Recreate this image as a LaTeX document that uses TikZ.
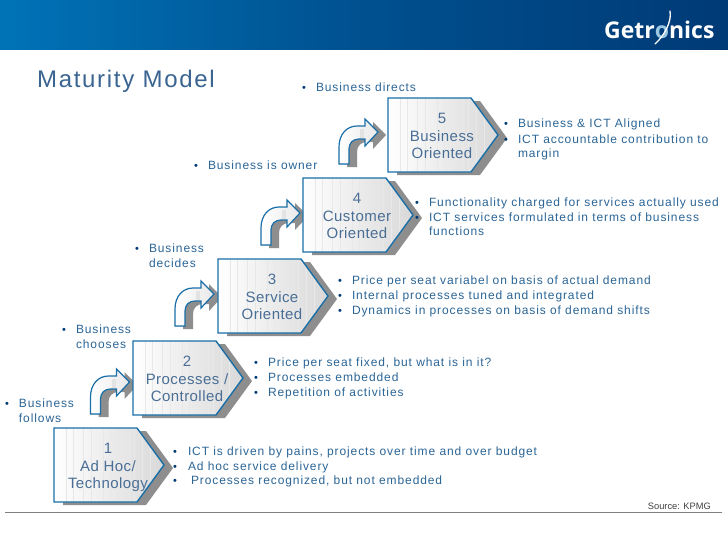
\documentclass[tikz,border=0pt]{standalone}
\usepackage{fontspec}
\setmainfont{Liberation Sans}
\newfontfamily\bodyf[LetterSpace=7.5]{Liberation Sans}
\newfontfamily\stagef[LetterSpace=3]{Liberation Sans}
\newfontfamily\titlef[LetterSpace=7]{Liberation Sans}
\newfontfamily\logof{Open Sans}
\usetikzlibrary{calc}
\definecolor{hdrL}{HTML}{0073B7}
\definecolor{hdrM}{HTML}{00508F}
\definecolor{hdrR}{HTML}{003A76}
\definecolor{edgeblue}{HTML}{1A6FA8}
\definecolor{txtblue}{HTML}{2B6596}
\definecolor{stagetxt}{HTML}{4A6E95}
\definecolor{titleblue}{HTML}{3A6491}
\definecolor{shadowg}{HTML}{8E8E8E}
\tikzset{
  txt/.style={anchor=base west,inner sep=0pt,outer sep=0pt,text=txtblue,font=\bodyf\fontsize{12}{14}\selectfont},
  bul/.style={anchor=base,inner sep=0pt,outer sep=0pt,text=hdrR,font=\fontsize{11}{14}\selectfont},
  stagetext/.style={anchor=base,inner sep=0pt,outer sep=0pt,text=stagetxt,font=\stagef\fontsize{15}{17}\selectfont},
  stripe/.style={line width=0.6pt,draw=gray!18},
}
\newcommand{\pentpath}{(0,0) -- (83,0) -- (110,37) -- (83,74) -- (0,74) -- cycle}
\newcommand{\arrowpath}{(0,0) -- (0,-17) .. controls (0,-30) and (8,-38) .. (18,-38) -- (26,-38) -- (26,-45) -- (39,-32) -- (26,-18) -- (26,-25) -- (20,-25) .. controls (14,-25) and (10,-21) .. (10,-15) -- (10,0) -- cycle}
% #1 name, #2 x, #3 y, #4-#6 lines
\newcommand{\stagebox}[6]{%
  \fill[shadowg,shift={(#2+9,#3+3)}] \pentpath;
  \begin{scope}[shift={(#2,#3)}]
    \begin{scope}
      \clip \pentpath;
      \fill[left color=white,right color=gray!30] (0,0) rectangle (110,74);
      \foreach \sx in {12,19,29,37,49,56,63,75,80,88,96}{\draw[stripe] (\sx,0) -- (\sx,74);}
    \end{scope}
    \draw[edgeblue,line width=1.4pt,line join=miter] \pentpath;
    \node[stagetext] (#1a) at (54,25) {#4};
    \node[stagetext] (#1b) at (54,43) {#5};
    \node[stagetext] (#1c) at (54,60) {#6};
  \end{scope}}
\newcommand{\bentarrow}[2]{%
  \fill[shadowg,shift={(#1+8,#2+3)}] \arrowpath;
  \begin{scope}[shift={(#1,#2)}]
    \fill[left color=white,right color=gray!18] \arrowpath;
    \fill[gray!22] (21,-35) rectangle (25,-26);
    \draw[edgeblue,line width=1.2pt,line join=miter] \arrowpath;
  \end{scope}}
\begin{document}
\begin{tikzpicture}[x=1pt,y=-1pt]
\useasboundingbox (0,0) rectangle (728,546);
\fill[white] (0,0) rectangle (728,546);
% header
\shade[left color=hdrL,right color=hdrR,middle color=hdrM] (0,0) rectangle (728,49);
\node[anchor=base west,inner sep=0pt,text=white,font=\logof\bfseries\fontsize{23}{26}\selectfont] (logo) at (604,38) {Getr\textcolor{hdrL!40}{o}nics};
\draw[white,line width=1.3pt,line cap=round] (655,44) .. controls (664,36) and (672,22) .. (670,11);
% title
\node[anchor=base west,inner sep=0pt,text=titleblue,font=\titlef\fontsize{24}{26}\selectfont] (title) at (37,87) {Maturity Model};
% stages
\bentarrow{339}{164}
\bentarrow{261}{245}
\bentarrow{175}{326}
\bentarrow{90.5}{414}
\stagebox{sv}{388}{98}{5}{Business}{Oriented}
\stagebox{si}{303}{178}{4}{Customer}{Oriented}
\stagebox{st}{218}{259}{3}{Service}{Oriented}
\stagebox{sb}{133}{341}{2}{Processes /}{Controlled}
\stagebox{sa}{54}{428}{1}{Ad Hoc/}{Technology}
% side captions
\node[bul] (b51) at (304,91) {•}; \node[txt] (t51) at (316,91) {Business directs};
\node[bul] (b41) at (196,169) {•}; \node[txt] (t41) at (208,169) {Business is owner};
\node[bul] (b31) at (137,252) {•}; \node[txt] (t31) at (149,252) {Business};
\node[txt] (t32) at (149,267) {decides};
\node[bul] (b21) at (64,333) {•}; \node[txt] (t21) at (76,333) {Business};
\node[txt] (t22) at (76,348) {chooses};
\node[bul] (b11) at (7,407) {•}; \node[txt] (t11) at (19,407) {Business};
\node[txt] (t12) at (19,422) {follows};
% lists
\node[bul] (l5a) at (506,127) {•}; \node[txt] (x5a) at (518,127) {Business \& ICT Aligned};
\node[bul] (l5b) at (506,143) {•}; \node[txt] (x5b) at (518,143) {ICT accountable contribution to};
\node[txt] (x5c) at (518,157) {margin};
\node[bul] (l4a) at (417,206) {•}; \node[txt] (x4a) at (429,206) {Functionality charged for services actually used};
\node[bul] (l4b) at (417,221) {•}; \node[txt] (x4b) at (429,221) {ICT services formulated in terms of business};
\node[txt] (x4c) at (429,235) {functions};
\node[bul] (l3a) at (340,284) {•}; \node[txt] (x3a) at (352,284) {Price per seat variabel on basis of actual demand};
\node[bul] (l3b) at (340,299) {•}; \node[txt] (x3b) at (352,299) {Internal processes tuned and integrated};
\node[bul] (l3c) at (340,314) {•}; \node[txt] (x3c) at (352,314) {Dynamics in processes on basis of demand shifts};
\node[bul] (l2a) at (256,366) {•}; \node[txt] (x2a) at (268,366) {Price per seat fixed, but what is in it?};
\node[bul] (l2b) at (256,381) {•}; \node[txt] (x2b) at (268,381) {Processes embedded};
\node[bul] (l2c) at (256,396) {•}; \node[txt] (x2c) at (268,396) {Repetition of activities};
\node[bul] (l1a) at (175,455) {•}; \node[txt] (x1a) at (188,455) {ICT is driven by pains, projects over time and over budget};
\node[bul] (l1b) at (175,470) {•}; \node[txt] (x1b) at (188,470) {Ad hoc service delivery};
\node[bul] (l1c) at (175,484) {•}; \node[txt] (x1c) at (191,484) {Processes recognized, but not embedded};
% footer
\coordinate (fl) at (5,512); \coordinate (fr) at (722,512);
\draw[gray,line width=0.8pt] (fl) -- (fr);
\node[anchor=base east,inner sep=0pt,text=black!75,font=\fontsize{9.3}{10}\selectfont] (src) at (711,509) {Source: KPMG};
\end{tikzpicture}
\end{document}
